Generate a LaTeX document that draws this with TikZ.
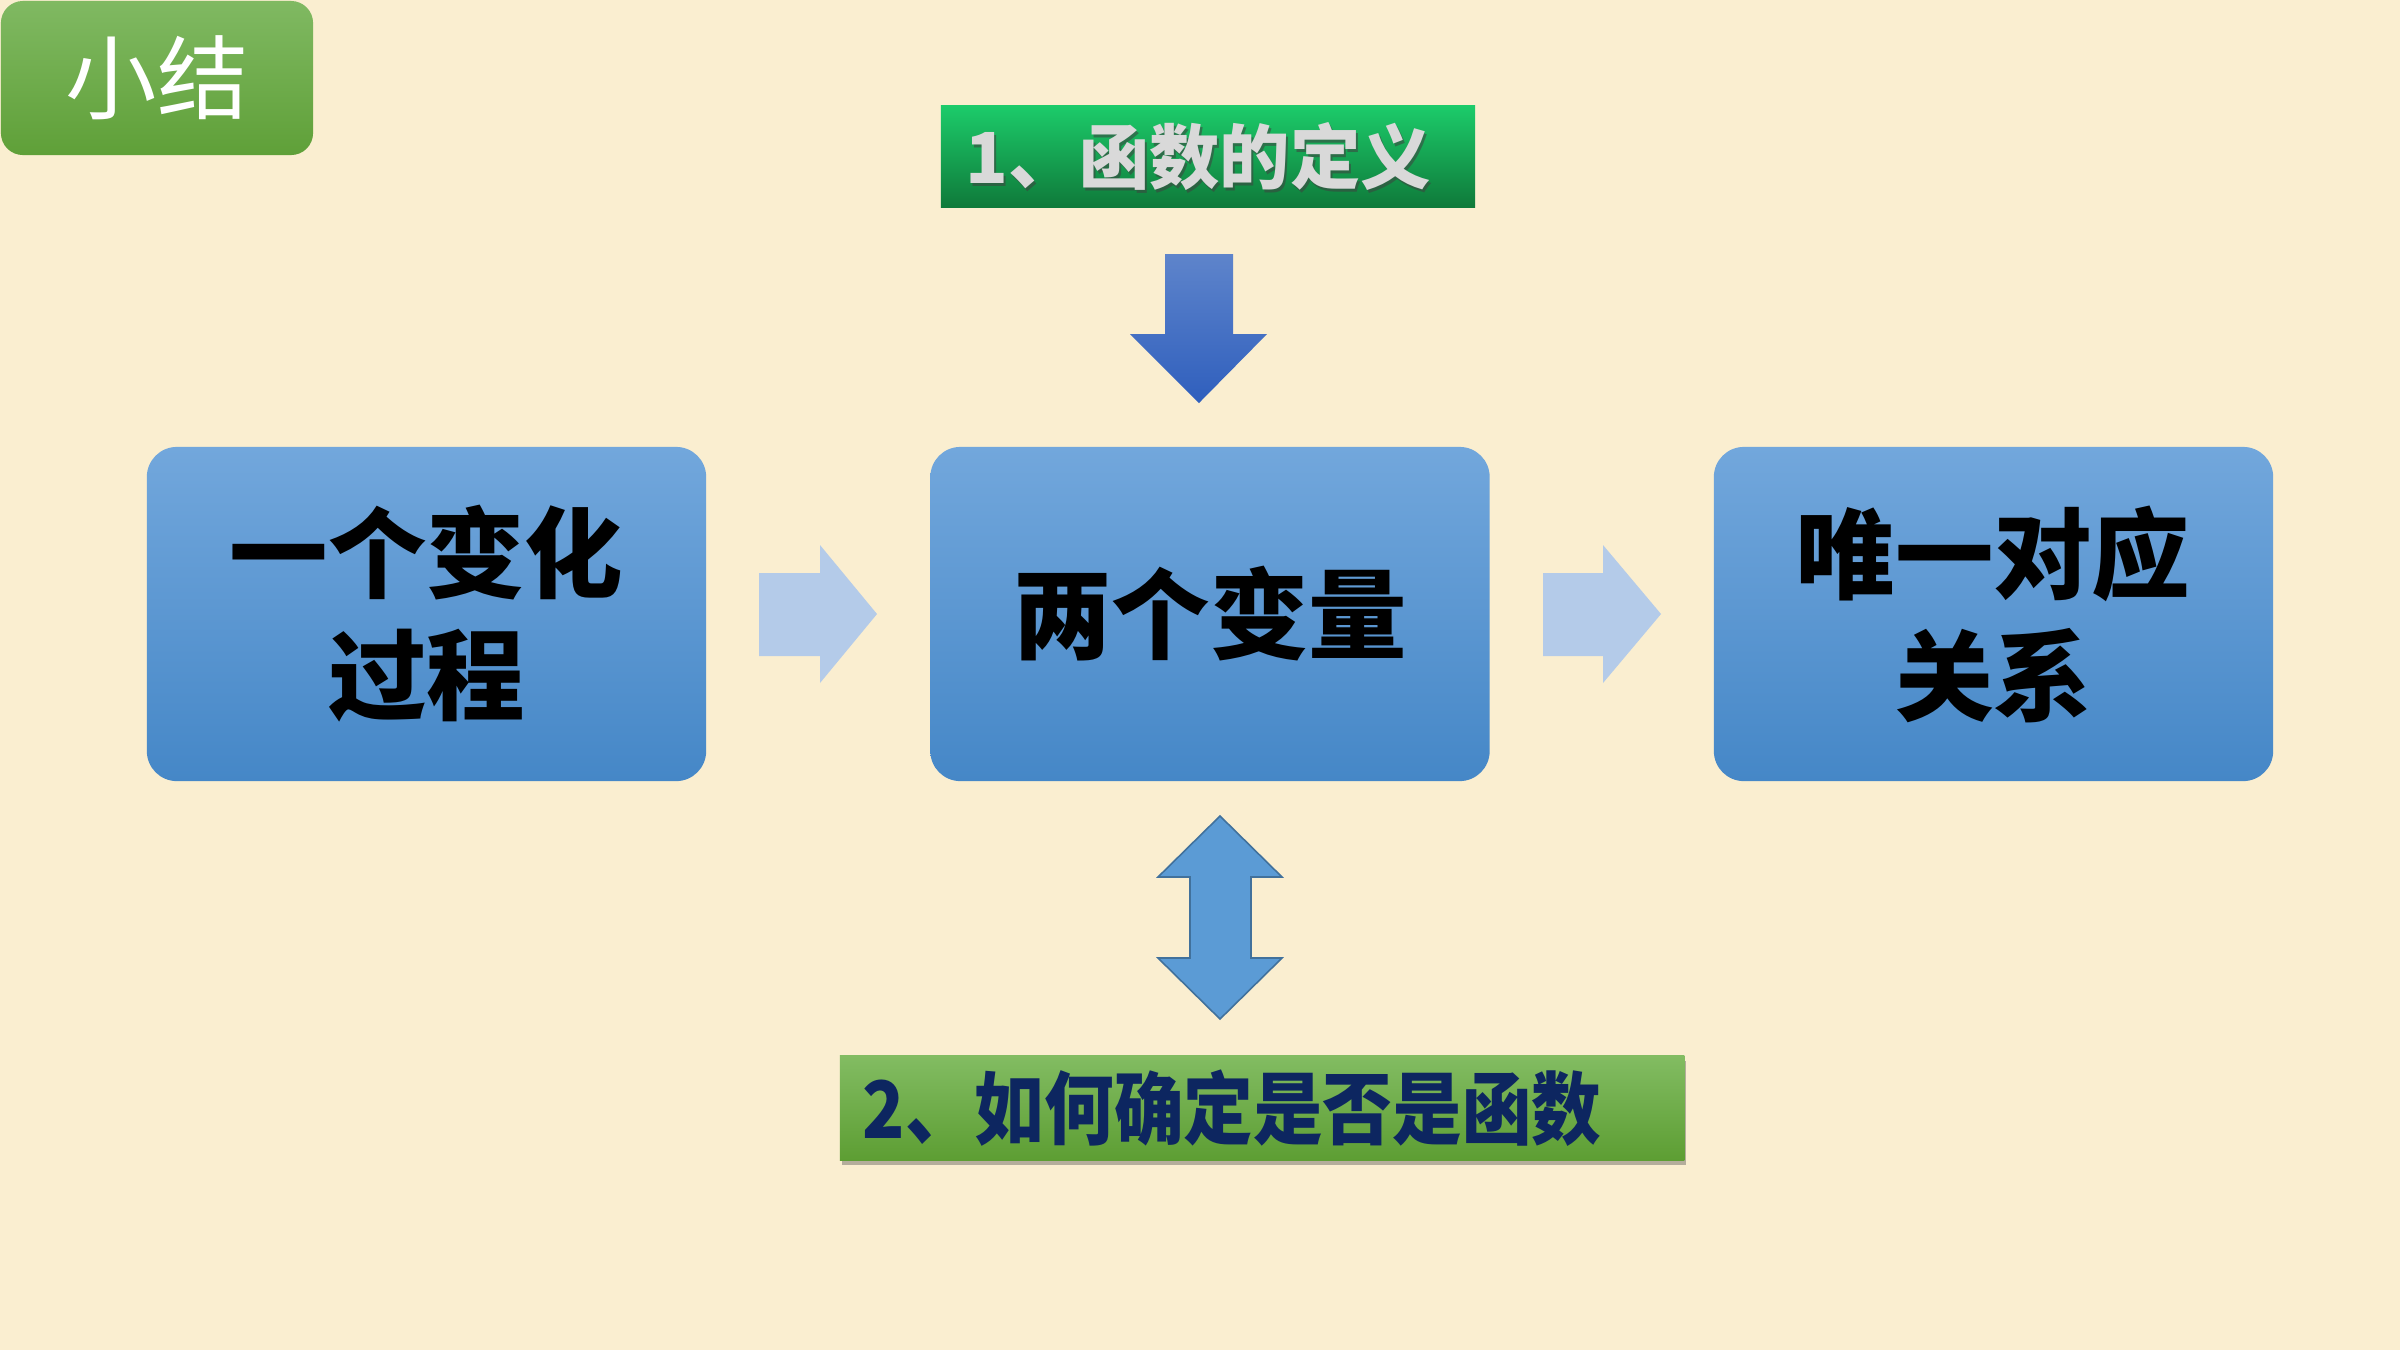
\documentclass[tikz,border=0pt]{standalone}
\usepackage{fontspec}
\newfontfamily\cjk{Noto Sans CJK SC}
\newfontfamily\cjkq{Noto Sans CJK SC}[FakeStretch=0.88]
\usetikzlibrary{shadows,calc}
\definecolor{bg}{HTML}{FAEED0}
\definecolor{xjtop}{HTML}{80B962}
\definecolor{xjbot}{HTML}{5FA038}
\definecolor{deftop}{HTML}{1CCB6A}
\definecolor{defmid}{HTML}{17B55C}
\definecolor{defbot}{HTML}{0F7A3A}
\definecolor{deftext}{HTML}{D9D9D9}
\definecolor{btop}{HTML}{72A7DC}
\definecolor{bmid}{HTML}{5698D8}
\definecolor{bbot}{HTML}{4587C7}
\definecolor{datop}{HTML}{5E84CB}
\definecolor{dabot}{HTML}{2F5FBD}
\definecolor{lightarr}{HTML}{B4CBE9}
\definecolor{dbl}{HTML}{5B9BD5}
\definecolor{dbledge}{HTML}{41719C}
\definecolor{qtop}{HTML}{82BC62}
\definecolor{qbot}{HTML}{5D9E33}
\definecolor{qtext}{HTML}{0D2660}
\tikzset{
  xjbox/.style={rounded corners=0.22cm, top color=xjtop, bottom color=xjbot,
    minimum width=3.12cm, minimum height=1.54cm, inner sep=0pt,
    text=white, font=\cjk\fontsize{26}{30}\selectfont},
  defbox/.style={top color=deftop, middle color=defmid, bottom color=defbot,
    minimum width=5.34cm, minimum height=1.01cm, inner sep=0pt},
  deflabel/.style={anchor=west, inner sep=0pt, font=\cjk\bfseries\fontsize{20}{24}\selectfont},
  bluebox/.style={rounded corners=0.3cm, top color=btop, middle color=bmid, bottom color=bbot,
    minimum width=5.59cm, minimum height=3.34cm, inner sep=0pt, align=center,
    text=black, font=\cjk\bfseries\fontsize{28}{34.7}\selectfont},
  qbox/.style={top color=qtop, bottom color=qbot, minimum width=8.44cm, minimum height=1.04cm,
    inner sep=0pt, drop shadow={shadow xshift=0.02cm, shadow yshift=-0.05cm, opacity=0.4, fill=black!70}},
  qlabel/.style={anchor=west, inner sep=0pt, text=qtext, font=\cjkq\bfseries\fontsize{22.5}{26}\selectfont},
  lightarrow/.style={fill=lightarr},
  dblarrow/.style={fill=dbl, draw=dbledge, line width=0.45pt},
}
\begin{document}
\begin{tikzpicture}[x=0.01cm,y=-0.01cm]
\useasboundingbox (0,0) rectangle (2400,1350);
\fill[bg] (0,0) rectangle (2400,1350);

% title tag
\node[xjbox] (xj) at (157,78) {小结};

% definition box
\node[defbox] (def) at (1208,156.5) {};
\node[deflabel, text=black!75, opacity=0.55] at ($(def.west)+(27,3)$) {1、函数的定义};
\node[deflabel, text=deftext] (deft) at ($(def.west)+(25,0)$) {1、函数的定义};

% down arrow
\shade[top color=datop, bottom color=dabot]
  (1165,254) -- (1233,254) -- (1233,334) -- (1267,334) -- (1199,403)
  -- (1130,334) -- (1165,334) -- cycle;

% main boxes
\node[bluebox] (A) at (426.5,614) {一个变化\\过程};
\node[bluebox] (B) at (1210,614) {两个变量};
\node[bluebox] (C) at (1993.5,614) {唯一对应\\关系};

% light arrows
\fill[lightarrow] (759,573) -- (820,573) -- (820,545) -- (877,614) -- (820,683)
  -- (820,656) -- (759,656) -- cycle;
\fill[lightarrow] (1543,573) -- (1603,573) -- (1603,545) -- (1661,614) -- (1603,683)
  -- (1603,656) -- (1543,656) -- cycle;

% double arrow
\draw[dblarrow] (1220,816) -- (1282,877) -- (1251,877) -- (1251,958) -- (1282,958)
  -- (1220,1019) -- (1158,958) -- (1190,958) -- (1190,877) -- (1158,877) -- cycle;

% question box
\node[qbox] (q) at (1262,1108) {};
\node[qlabel] (qt) at ($(q.west)+(23,0)$) {2、如何确定是否是函数};
\end{tikzpicture}
\end{document}
